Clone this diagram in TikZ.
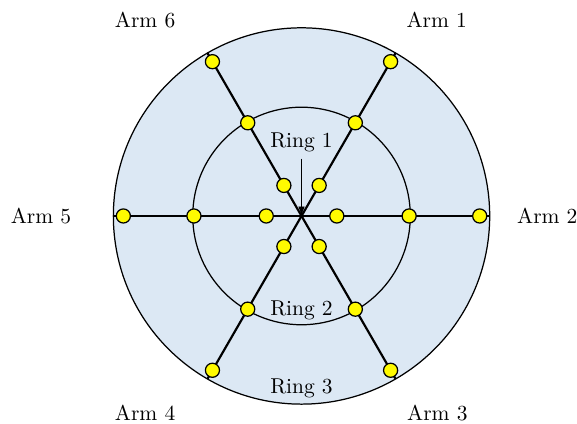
\documentclass[tikz,border=0pt]{standalone}
\usepackage{tikz}
\usetikzlibrary{arrows.meta}
\definecolor{cfondo}{RGB}{220,232,244}
\definecolor{cnodo}{RGB}{255,250,0}
\tikzset{
  anillo/.style={draw=black, line width=0.6pt},
  brazo/.style={draw=black, line width=1.05pt},
  punto/.style={circle, draw=black, fill=cnodo, line width=0.6pt,
    minimum size=0.24cm, inner sep=0pt},
  etq/.style={font=\fontsize{10.4}{12.5}\selectfont},
  flecha/.style={-{Latex[length=1.6mm,width=1.1mm]}, line width=0.4pt},
}
\begin{document}
\begin{tikzpicture}
  \useasboundingbox (-5.128,-3.537) rectangle (4.685,3.673);
  \coordinate (c) at (0,0);
  % rings
  \draw[anillo, fill=cfondo] (c) circle (3.2);
  \draw[anillo] (c) circle (1.85);
  % arms with their points
  \foreach \k in {1,...,6}{
    \pgfmathsetmacro{\ang}{120-60*\k}
    \coordinate (e\k) at (\ang:3.2);
    \draw[brazo] (c) -- (e\k);
    \node[punto] (p\k a) at (\ang:0.6) {};
    \node[punto] (p\k b) at (\ang:1.83) {};
    \node[punto] (p\k c) at (\ang:3.03) {};
  }
  % labels
  \node[etq] (r1) at (0,1.26) {Ring 1};
  \draw[flecha] (r1) -- (c);
  \node[etq] (r2) at (0,-1.60) {Ring 2};
  \node[etq] (r3) at (0,-2.93) {Ring 3};
  \node[etq] (a1) at (2.30,3.33) {Arm 1};
  \node[etq] (a2) at (4.18,0) {Arm 2};
  \node[etq] (a3) at (2.31,-3.35) {Arm 3};
  \node[etq] (a4) at (-2.66,-3.35) {Arm 4};
  \node[etq] (a5) at (-4.43,0) {Arm 5};
  \node[etq] (a6) at (-2.66,3.33) {Arm 6};
\end{tikzpicture}
\end{document}
